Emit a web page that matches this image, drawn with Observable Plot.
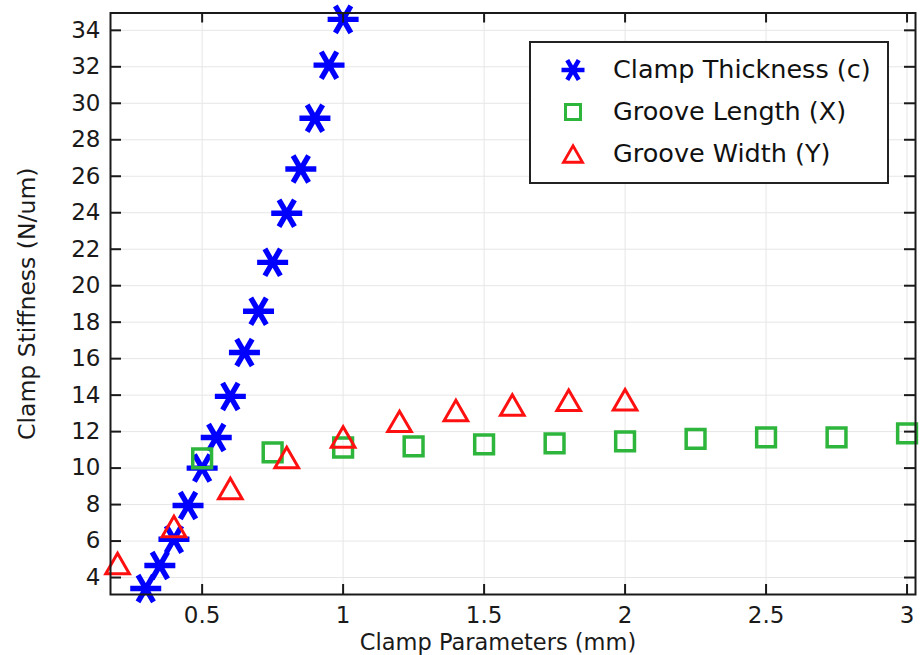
<!DOCTYPE html>
<html>
<head>
<meta charset="utf-8">
<script src="https://cdn.jsdelivr.net/npm/d3@7"></script>
<script src="https://cdn.jsdelivr.net/npm/@observablehq/plot@0.6"></script>
<style>
  html, body { margin: 0; padding: 0; background: #fff; }
  #wrap { position: relative; width: 920px; height: 655px; overflow: hidden; font-family: "DejaVu Sans", sans-serif; }
  #legend { position: absolute; left: 529px; top: 41px; width: 356px; height: 139px; border: 2px solid #222; background: #fff; }
  #legend .row { position: absolute; left: 0; height: 40px; display: flex; align-items: center; }
  #legend .row svg { position: absolute; left: 22px; }
  #legend .row span { position: absolute; left: 82px; white-space: nowrap; font-size: 25.5px; color: #111; line-height: 1; top: 50%; transform: translateY(-50%); }
</style>
</head>
<body>
<div id="wrap"><div id="chart"></div><div id="legend"></div></div>
<script>
// ---- data ----
const seriesNames = ["Clamp Thickness (c)", "Groove Length (X)", "Groove Width (Y)"];
const seriesColors = ["#0000ff", "#2db53c", "#ff1010"];

const thicknessX = [0.3, 0.35, 0.4, 0.45, 0.5, 0.55, 0.6, 0.65, 0.7, 0.75, 0.8, 0.85, 0.9, 0.95, 1.0];
const thicknessY = [3.4, 4.66, 6.1, 7.95, 10.0, 11.68, 13.93, 16.34, 18.6, 21.28, 23.97, 26.4, 29.18, 32.09, 34.6];

const lengthX = [0.5, 0.75, 1.0, 1.25, 1.5, 1.75, 2.0, 2.25, 2.5, 2.75, 3.0];
const lengthY = [10.53, 10.86, 11.13, 11.19, 11.3, 11.35, 11.46, 11.6, 11.68, 11.68, 11.9];

const widthX = [0.2, 0.4, 0.6, 0.8, 1.0, 1.2, 1.4, 1.6, 1.8, 2.0];
const widthY = [4.77, 6.8, 8.88, 10.58, 11.7, 12.56, 13.16, 13.46, 13.72, 13.75];

const xTicks = [0.5, 1, 1.5, 2, 2.5, 3];
const xTickLabels = ["0.5", "1", "1.5", "2", "2.5", "3"];
const yTicks = [4, 6, 8, 10, 12, 14, 16, 18, 20, 22, 24, 26, 28, 30, 32, 34];
const yTickLabels = ["4", "6", "8", "10", "12", "14", "16", "18", "20", "22", "24", "26", "28", "30", "32", "34"];

const xLabel = "Clamp Parameters (mm)";
const yLabel = "Clamp Stiffness (N/um)";

// ---- build tables ----
const zip = (xs, ys) => xs.map((x, i) => ({x, y: ys[i]}));
const thickness = zip(thicknessX, thicknessY);
const groovLen = zip(lengthX, lengthY);
const groovWid = zip(widthX, widthY);

// ---- custom marker symbols ----
const rOf = size => Math.sqrt(size / Math.PI);
const starSym = {draw(ctx, size) {
  const r = rOf(size), a = r * Math.cos(Math.PI / 3), b = r * Math.sin(Math.PI / 3);
  ctx.moveTo(-r, 0); ctx.lineTo(r, 0);
  ctx.moveTo(-a, -b); ctx.lineTo(a, b);
  ctx.moveTo(-a, b); ctx.lineTo(a, -b);
}};
const squareSym = {draw(ctx, size) {
  const r = rOf(size);
  ctx.moveTo(-r, -r); ctx.lineTo(r, -r); ctx.lineTo(r, r); ctx.lineTo(-r, r); ctx.closePath();
}};
const triSym = {draw(ctx, size) {
  const r = rOf(size), h = r * Math.sqrt(3);
  ctx.moveTo(0, -h / 2); ctx.lineTo(r, h / 2); ctx.lineTo(-r, h / 2); ctx.closePath();
}};

const W = 920, H = 655, mL = 110, mR = 5, mT = 12.5, mB = 61;
const innerW = W - mL - mR, innerH = H - mT - mB;
const ink = "#1a1a1a";

const chart = Plot.plot({
  width: W, height: H,
  marginLeft: mL, marginRight: mR, marginTop: mT, marginBottom: mB,
  style: {fontFamily: "DejaVu Sans, sans-serif", fontSize: "23px", color: ink, background: "#fff"},
  x: {domain: [0.175, 3.03], axis: null},
  y: {domain: [3.07, 34.95], axis: null},
  marks: [
    Plot.gridX(xTicks, {stroke: "#e6e6e6", strokeOpacity: 1, strokeWidth: 1}),
    Plot.gridY(yTicks, {stroke: "#e6e6e6", strokeOpacity: 1, strokeWidth: 1}),
    Plot.dot(thickness, {x: "x", y: "y", symbol: starSym, r: 15.5, fill: "none", stroke: seriesColors[0], strokeWidth: 5.4, strokeLinecap: "butt"}),
    Plot.dot(groovLen, {x: "x", y: "y", symbol: squareSym, r: 9.4, fill: "none", stroke: seriesColors[1], strokeWidth: 3.5, strokeLinejoin: "miter"}),
    Plot.dot(groovWid, {x: "x", y: "y", symbol: triSym, r: 11.8, fill: "none", stroke: seriesColors[2], strokeWidth: 3, strokeLinejoin: "miter"}),
    // inward ticks on all four sides
    Plot.tickX(xTicks, {x: d => d, insetTop: innerH - 10, stroke: ink, strokeWidth: 2}),
    Plot.tickX(xTicks, {x: d => d, insetBottom: innerH - 10, stroke: ink, strokeWidth: 2}),
    Plot.tickY(yTicks, {y: d => d, insetRight: innerW - 11, stroke: ink, strokeWidth: 2}),
    Plot.tickY(yTicks, {y: d => d, insetLeft: innerW - 11, stroke: ink, strokeWidth: 2}),
    Plot.axisX(xTicks, {tickSize: 0, tickPadding: 12.5, tickFormat: d => xTickLabels[xTicks.indexOf(d)], label: null, fontSize: 23, fill: ink}),
    Plot.axisY(yTicks, {tickSize: 0, tickPadding: 10, tickFormat: d => yTickLabels[yTicks.indexOf(d)], label: null, fontSize: 23, fill: ink}),
    Plot.frame({stroke: ink, strokeWidth: 2}),
    Plot.text([xLabel], {text: d => d, frameAnchor: "bottom", dx: -15, dy: 55.5, lineAnchor: "bottom", fontSize: 22.5, fill: ink}),
    Plot.text([yLabel], {text: d => d, frameAnchor: "left", dx: -83, rotate: -90, lineAnchor: "middle", textAnchor: "middle", fontSize: 23.5, fill: ink})
  ]
});
document.getElementById("chart").appendChild(chart);

// ---- legend ----
const legendSyms = [
  {sym: starSym, r: 11.5, sw: 4.5, join: "miter"},
  {sym: squareSym, r: 7.5, sw: 3, join: "miter"},
  {sym: triSym, r: 9.5, sw: 2.8, join: "miter"}
];
const legend = document.getElementById("legend");
seriesNames.forEach((name, i) => {
  const row = document.createElement("div");
  row.className = "row";
  row.style.top = (7 + i * 42) + "px";
  const s = legendSyms[i];
  const p = d3.path();
  s.sym.draw(p, Math.PI * s.r * s.r);
  const svg = d3.create("svg").attr("width", 40).attr("height", 40).attr("viewBox", "-20 -20 40 40");
  svg.append("path").attr("d", p.toString()).attr("fill", "none").attr("stroke", seriesColors[i])
    .attr("stroke-width", s.sw).attr("stroke-linejoin", s.join);
  row.appendChild(svg.node());
  const span = document.createElement("span");
  span.textContent = name;
  row.appendChild(span);
  legend.appendChild(row);
});
</script>
</body>
</html>
